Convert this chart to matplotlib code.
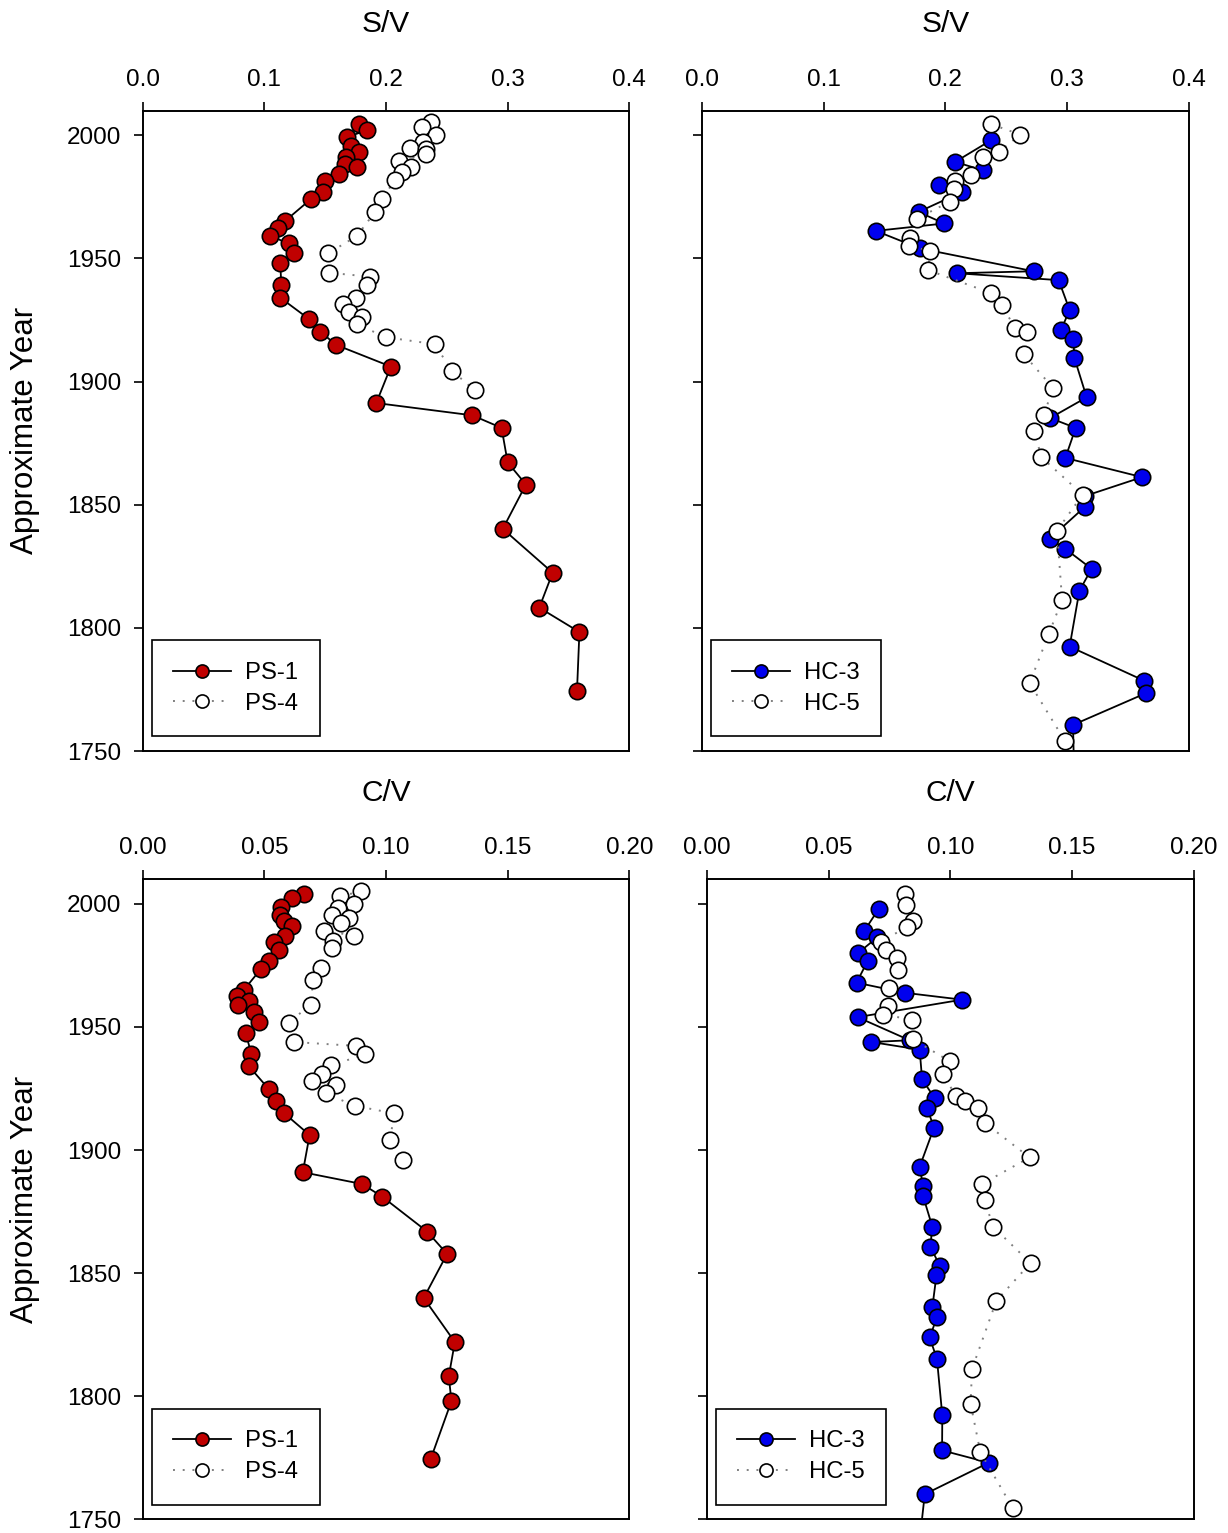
import matplotlib
matplotlib.use("Agg")
import matplotlib.pyplot as plt
from matplotlib.ticker import FormatStrFormatter

plt.rcParams["font.family"] = ["Liberation Sans", "DejaVu Sans"]

# PS cores, S/V
ps1_sv_year = [2004.5, 2002.0, 1999.3, 1995.5, 1993.2, 1991.2, 1988.5, 1987.2, 1984.2,
               1981.4, 1977.0, 1974.0, 1965.2, 1962.2, 1959.1, 1956.1, 1952.1, 1948.3,
               1939.2, 1934.1, 1925.3, 1920.3, 1914.9, 1906.1, 1891.3, 1886.3, 1881.2,
               1867.2, 1858.2, 1840.2, 1822.4, 1808.2, 1798.3, 1774.4]
ps1_sv = [0.178, 0.184, 0.168, 0.171, 0.178, 0.167, 0.166, 0.176, 0.161,
          0.150, 0.148, 0.138, 0.117, 0.111, 0.105, 0.120, 0.124, 0.113,
          0.114, 0.113, 0.137, 0.146, 0.159, 0.204, 0.192, 0.271, 0.295,
          0.300, 0.315, 0.296, 0.337, 0.326, 0.359, 0.357]

ps4_sv_year = [2005.4, 2003.4, 2000.3, 1997.3, 1994.9, 1994.6, 1992.3, 1989.5, 1987.2,
               1985.1, 1981.8, 1974.1, 1968.9, 1959.1, 1952.1, 1944.2, 1942.6, 1939.2,
               1934.1, 1931.5, 1928.4, 1926.1, 1923.3, 1918.0, 1915.2, 1904.5, 1896.4]
ps4_sv = [0.237, 0.230, 0.2415, 0.2305, 0.220, 0.2325, 0.2325, 0.211, 0.2207,
          0.213, 0.207, 0.197, 0.191, 0.176, 0.1525, 0.153, 0.187, 0.184,
          0.175, 0.1645, 0.1695, 0.180, 0.176, 0.200, 0.240, 0.254, 0.273]

# PS cores, C/V
ps1_cv_year = [2004.1, 2002.3, 1998.9, 1995.5, 1993.2, 1990.9, 1987.1, 1984.4, 1981.1,
               1977.0, 1973.7, 1965.1, 1962.4, 1960.4, 1959.1, 1956.1, 1952.0, 1947.7,
               1939.2, 1934.0, 1924.7, 1920.0, 1915.1, 1906.1, 1891.0, 1886.2, 1881.1,
               1866.9, 1857.8, 1839.9, 1822.0, 1808.1, 1798.0, 1774.3]
ps1_cv = [0.0662, 0.0615, 0.0570, 0.0564, 0.0580, 0.0615, 0.0584, 0.0539, 0.0560,
          0.0519, 0.0487, 0.0416, 0.0389, 0.0437, 0.0391, 0.0457, 0.0480, 0.0423,
          0.0446, 0.0437, 0.0519, 0.0546, 0.0580, 0.0686, 0.0658, 0.0902, 0.0984,
          0.1169, 0.1251, 0.1155, 0.1283, 0.1258, 0.1269, 0.1183]

ps4_cv_year = [2005.1, 2003.1, 2000.0, 1998.2, 1995.3, 1994.2, 1992.3, 1989.2, 1987.1,
               1985.1, 1982.0, 1974.1, 1968.9, 1959.1, 1951.8, 1943.9, 1942.3, 1938.9,
               1934.4, 1931.1, 1928.0, 1926.3, 1923.0, 1918.0, 1914.9, 1904.1, 1896.0]
ps4_cv = [0.0899, 0.0809, 0.0868, 0.0804, 0.0779, 0.0847, 0.0817, 0.0745, 0.0868,
          0.0782, 0.0779, 0.0731, 0.0701, 0.0690, 0.0601, 0.0621, 0.0878, 0.0913,
          0.0775, 0.0738, 0.0697, 0.0793, 0.0752, 0.0872, 0.1032, 0.1018, 0.1071]

# HC cores, S/V
hc3_sv_year = [1998.0, 1989.2, 1985.8, 1979.7, 1977.0, 1968.9, 1964.2, 1961.2, 1954.1,
               1944.8, 1944.0, 1941.2, 1929.1, 1921.0, 1917.2, 1909.5, 1893.6, 1885.2,
               1881.2, 1869.0, 1861.2, 1853.6, 1849.1, 1836.2, 1832.1, 1824.0, 1815.0,
               1792.4, 1778.5, 1773.4, 1760.6, 1745.0]
hc3_sv = [0.2375, 0.208, 0.231, 0.195, 0.2136, 0.178, 0.199, 0.143, 0.179,
          0.2725, 0.2095, 0.293, 0.302, 0.295, 0.305, 0.306, 0.316, 0.286,
          0.307, 0.2985, 0.3615, 0.315, 0.3144, 0.2856, 0.2985, 0.320, 0.310,
          0.302, 0.3634, 0.3643, 0.3048, 0.3055]

hc5_sv_year = [2004.5, 2000.3, 1993.2, 1991.2, 1983.8, 1981.4, 1978.4, 1973.0, 1966.2,
               1958.5, 1955.1, 1953.0, 1945.3, 1935.9, 1931.1, 1921.9, 1920.0, 1911.1,
               1897.4, 1886.3, 1880.1, 1869.3, 1854.1, 1839.5, 1811.3, 1797.4, 1777.6,
               1754.2]
hc5_sv = [0.2377, 0.2615, 0.2437, 0.2310, 0.2213, 0.2076, 0.2067, 0.2035, 0.1766,
          0.1706, 0.1698, 0.1876, 0.1857, 0.2377, 0.2465, 0.2569, 0.2670, 0.2643,
          0.2884, 0.2807, 0.2730, 0.2788, 0.3127, 0.2917, 0.2958, 0.2848, 0.2692,
          0.2980]

# HC cores, C/V
hc3_cv_year = [1998.0, 1988.9, 1986.5, 1980.0, 1976.7, 1968.0, 1963.9, 1961.1, 1954.0,
               1944.6, 1943.9, 1940.8, 1928.8, 1921.0, 1917.2, 1909.1, 1893.2, 1885.3,
               1881.3, 1868.9, 1860.8, 1853.1, 1849.1, 1836.1, 1832.0, 1823.9, 1815.1,
               1792.2, 1778.0, 1773.0, 1760.2, 1745.0]
hc3_cv = [0.0706, 0.0646, 0.0701, 0.0621, 0.0660, 0.0615, 0.0813, 0.1048, 0.0619,
          0.0833, 0.0676, 0.0874, 0.0884, 0.0936, 0.0904, 0.0933, 0.0874, 0.0888,
          0.0888, 0.0926, 0.0918, 0.0956, 0.0943, 0.0926, 0.0945, 0.0915, 0.0945,
          0.0967, 0.0966, 0.1158, 0.0895, 0.0878]

hc5_cv_year = [2004.1, 1999.7, 1993.2, 1990.8, 1984.4, 1981.1, 1978.1, 1973.0, 1966.0,
               1958.4, 1955.0, 1953.0, 1945.0, 1936.1, 1931.1, 1921.9, 1920.0, 1917.2,
               1911.1, 1897.0, 1886.2, 1879.7, 1868.9, 1854.1, 1838.8, 1811.1, 1797.0,
               1777.3, 1754.4]
hc5_cv = [0.0813, 0.0820, 0.0847, 0.0822, 0.0714, 0.0734, 0.0781, 0.0785, 0.0748,
          0.0744, 0.0724, 0.0844, 0.0847, 0.0997, 0.0970, 0.1022, 0.1061, 0.1115,
          0.1141, 0.1325, 0.1130, 0.1141, 0.1175, 0.1329, 0.1189, 0.1089, 0.1083,
          0.1123, 0.1257]

year_ticks = [1750, 1800, 1850, 1900, 1950, 2000]
sv_ticks = [0.0, 0.1, 0.2, 0.3, 0.4]
cv_ticks = [0.00, 0.05, 0.10, 0.15, 0.20]

RED = "#c00000"
BLUE = "#0000ee"

W, H = 1228, 1533
fig = plt.figure(figsize=(W / 100, H / 100), dpi=100)


def add_panel(left, top, right, bottom):
    # axes placed by pixel edges
    return fig.add_axes([left / W, 1 - bottom / H, (right - left) / W, (bottom - top) / H])


def style_panel(ax, xticks, fmt, xlabel, show_years):
    ax.set_xlim(xticks[0], xticks[-1])
    ax.set_ylim(1750, 2010)
    ax.set_xticks(xticks)
    ax.set_yticks(year_ticks)
    ax.xaxis.set_major_formatter(FormatStrFormatter(fmt))
    ax.xaxis.tick_top()
    ax.xaxis.set_label_position("top")
    ax.set_xlabel(xlabel, fontsize=21.5, labelpad=26)
    ax.tick_params(direction="out", length=6.5, width=1.2, labelsize=17.5, pad=8)
    ax.tick_params(axis="y", pad=9)
    for sp in ax.spines.values():
        sp.set_linewidth(1.4)
    if show_years:
        ax.set_ylabel("Approximate Year", fontsize=22.5, labelpad=19)
    else:
        ax.set_yticklabels([])


def draw_pair(ax, y1, v1, y2, v2, color, name1, name2):
    ax.plot(v1, y1, color="black", linewidth=1.3, marker="o", markersize=11.8,
            markerfacecolor=color, markeredgecolor="black", markeredgewidth=1.2,
            label=name1)
    ax.plot(v2, y2, color="#808080", linewidth=1.4, linestyle=(0, (1, 4)),
            marker="o", markersize=11.8, markerfacecolor="white",
            markeredgecolor="black", markeredgewidth=1.2, label=name2)
    leg = ax.legend(loc="lower left", bbox_to_anchor=(0.019, 0.023), borderaxespad=0,
                    fontsize=17.2, frameon=True, fancybox=False, edgecolor="black",
                    framealpha=1, handlelength=2.4, handletextpad=0.6,
                    labelspacing=0.37, borderpad=0.9, markerscale=0.8)
    leg.get_frame().set_linewidth(1.2)


ax_tl = add_panel(142.7, 110.7, 629.3, 751)
ax_tr = add_panel(701.7, 110.7, 1189, 751)
ax_bl = add_panel(142.7, 879.3, 629.3, 1519.3)
ax_br = add_panel(706.7, 879.3, 1194, 1519.3)

draw_pair(ax_tl, ps1_sv_year, ps1_sv, ps4_sv_year, ps4_sv, RED, "PS-1", "PS-4")
draw_pair(ax_tr, hc3_sv_year, hc3_sv, hc5_sv_year, hc5_sv, BLUE, "HC-3", "HC-5")
draw_pair(ax_bl, ps1_cv_year, ps1_cv, ps4_cv_year, ps4_cv, RED, "PS-1", "PS-4")
draw_pair(ax_br, hc3_cv_year, hc3_cv, hc5_cv_year, hc5_cv, BLUE, "HC-3", "HC-5")

style_panel(ax_tl, sv_ticks, "%.1f", "S/V", True)
style_panel(ax_tr, sv_ticks, "%.1f", "S/V", False)
style_panel(ax_bl, cv_ticks, "%.2f", "C/V", True)
style_panel(ax_br, cv_ticks, "%.2f", "C/V", False)

fig.savefig("out.png", dpi=100)
